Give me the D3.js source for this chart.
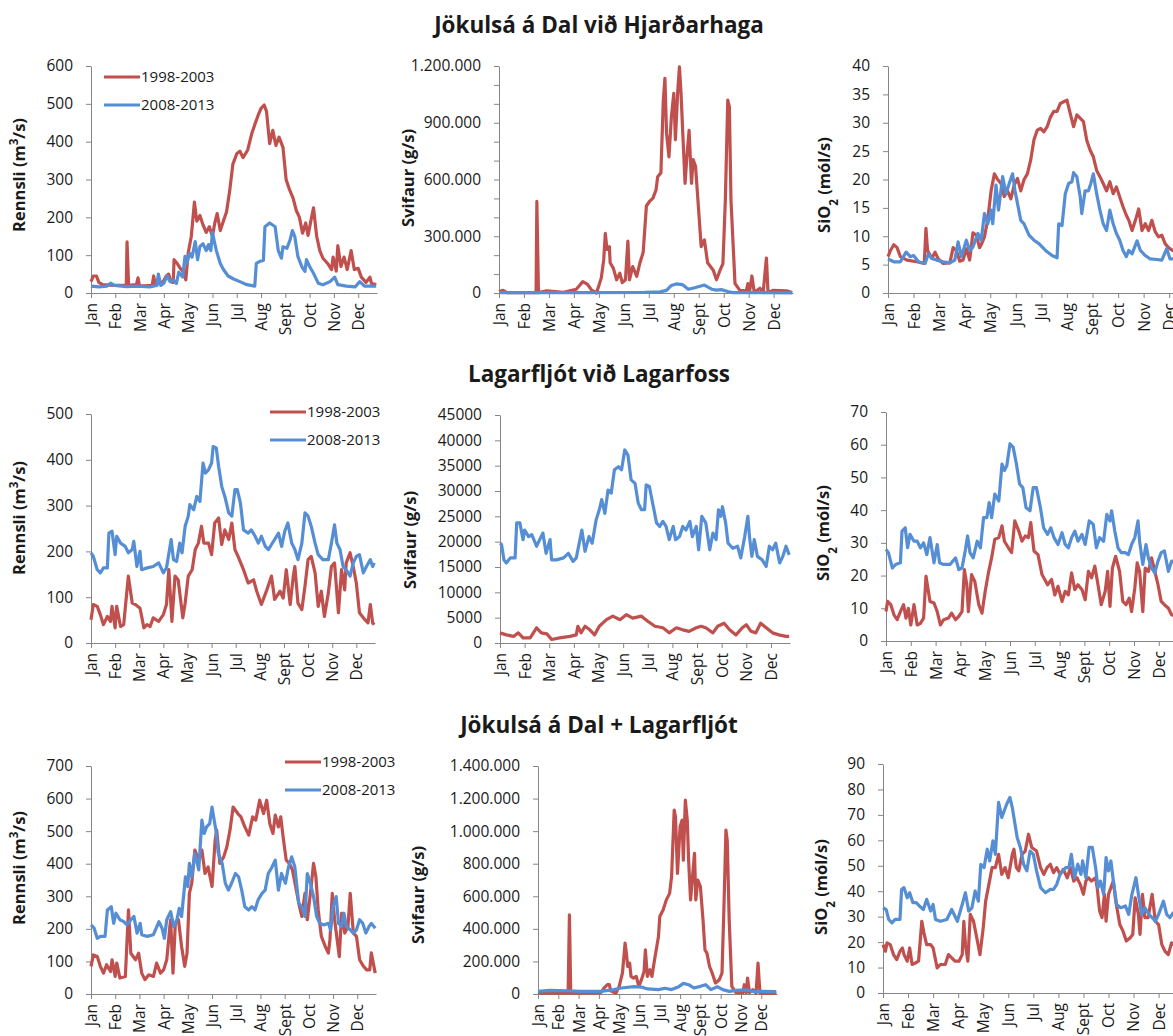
<!DOCTYPE html>
<html>
<head>
<meta charset="utf-8">
<script src="https://cdn.jsdelivr.net/npm/d3@7"></script>
<style>
  body { margin: 0; background: #fff; }
  text { font-family: "Open Sans", sans-serif; fill: #1a1a1a; }
</style>
</head>
<body>
<svg id="chart" width="1173" height="1036"></svg>
<script>
const months = ["Jan", "Feb", "Mar", "Apr", "May", "Jun", "Jul", "Aug", "Sept", "Oct", "Nov", "Dec"];
const monthDays = months.map((m, i) => i * 31);
const seriesNames = ["1998-2003", "2008-2013"];
const seriesColors = ["#C0504D", "#558ED5"];
const rowTitles = ["Jökulsá á Dal við Hjarðarhaga", "Lagarfljót við Lagarfoss", "Jökulsá á Dal + Lagarfljót"];

// [day of year, value]; svifaur series are in thousand g/s

// Jökulsá á Dal við Hjarðarhaga
const jdRennsli98 = [[0,30],[3,45],[7,45],[10,28],[15,22],[30,20],[45,20],[46,135],[48,20],[58,22],[60,40],[62,18],[78,20],[80,45],[82,22],[92,30],[96,45],[99,50],[102,30],[105,28],[106,88],[110,78],[114,65],[118,55],[121,35],[124,105],[128,150],[132,240],[135,190],[139,205],[143,180],[147,160],[151,175],[155,150],[158,185],[161,210],[165,165],[169,190],[173,215],[177,270],[181,340],[186,368],[190,375],[194,358],[200,378],[205,420],[209,445],[213,468],[217,488],[221,497],[224,480],[228,395],[232,430],[236,390],[240,412],[245,385],[249,300],[253,275],[258,250],[262,218],[266,200],[270,158],[274,185],[277,152],[281,195],[284,225],[288,150],[292,112],[296,92],[302,78],[307,62],[309,95],[313,58],[315,125],[319,70],[323,95],[327,62],[332,112],[336,62],[341,65],[345,42],[351,28],[356,42],[358,25],[364,22]];
const jdRennsli08 = [[0,18],[10,16],[20,18],[25,26],[30,20],[45,17],[60,18],[75,16],[84,20],[86,50],[89,20],[93,26],[97,45],[101,30],[105,35],[109,25],[112,55],[117,42],[120,97],[122,78],[126,105],[129,95],[133,136],[136,88],[139,123],[143,130],[147,112],[150,128],[153,112],[155,160],[157,140],[160,112],[165,78],[169,62],[175,45],[182,37],[190,30],[199,22],[209,18],[211,78],[216,84],[220,86],[222,175],[228,185],[235,175],[239,112],[243,92],[245,122],[250,118],[254,140],[257,165],[260,150],[264,97],[269,70],[273,57],[275,88],[279,70],[284,52],[290,26],[296,22],[305,30],[311,42],[315,22],[326,18],[337,16],[343,30],[349,18],[364,18]];
const jdSvifaur98 = [[0,8],[5,14],[10,2],[46,2],[47,484],[49,2],[59,12],[80,4],[96,20],[104,60],[110,45],[115,15],[121,0],[125,53],[127,80],[130,175],[132,315],[134,230],[137,245],[138,160],[142,130],[146,70],[150,105],[153,55],[157,70],[160,275],[162,70],[166,140],[171,88],[175,160],[179,215],[183,460],[187,485],[191,500],[195,545],[197,615],[201,635],[204,1020],[206,1135],[208,845],[211,720],[214,930],[217,1055],[219,810],[222,1075],[224,1195],[226,1055],[228,860],[231,580],[233,705],[236,860],[239,580],[241,705],[244,670],[247,490],[251,245],[255,280],[259,160],[266,120],[270,70],[274,115],[278,155],[281,490],[284,1020],[286,985],[288,490],[293,50],[299,14],[307,12],[309,50],[311,5],[314,90],[317,3],[324,25],[328,3],[332,185],[334,3],[340,14],[357,12],[364,3]];
const jdSvifaur08 = [[0,2],[100,2],[180,3],[200,6],[208,14],[214,40],[220,48],[228,44],[235,20],[243,28],[255,42],[264,20],[270,15],[276,18],[284,8],[290,2],[364,1]];
const jdSio98 = [[0,6.4],[3,7.5],[7,8.5],[11,8],[15,6.4],[23,5.8],[35,5.5],[44,5.2],[46,11.4],[48,7.5],[53,6.1],[57,7.2],[61,6],[67,5.2],[75,5.3],[79,8],[83,7.5],[87,5.6],[91,5.8],[95,7.8],[99,5.8],[103,10.6],[107,10.2],[111,8],[113,8.5],[117,9.9],[121,13],[125,18],[129,21],[133,20],[137,19.3],[141,17],[145,18],[149,16.6],[153,19],[157,20.2],[161,18],[165,20],[169,21],[173,23.4],[177,27],[181,28.7],[185,29],[189,28.4],[193,29.3],[197,31],[201,32],[205,32],[209,33.4],[213,33.7],[217,34],[221,31.6],[225,29.3],[229,31.4],[233,30.8],[237,30.2],[241,26.9],[245,25.2],[249,24],[253,21.6],[257,20.5],[261,19.3],[265,18],[269,19.6],[273,17.5],[277,18.7],[281,16.9],[285,15.2],[289,13.7],[292,12.8],[296,11],[300,12.8],[304,14.8],[308,11],[312,12.2],[316,11],[320,12.8],[324,10.8],[328,9.9],[332,10.2],[336,8.7],[340,8],[345,7.5],[355,7],[364,6.5]];
const jdSio08 = [[0,6],[7,5.5],[15,5.5],[22,7.2],[27,6.4],[31,6.6],[37,5.5],[45,5.2],[49,6.9],[53,6.1],[59,5.8],[67,5.5],[75,5.3],[81,5.8],[85,9],[89,6.4],[95,9.3],[99,7.5],[103,8.1],[109,10.5],[113,9.3],[117,14],[121,12.2],[125,14.6],[127,12.2],[131,19],[134,14.6],[137,18.1],[139,20.5],[143,17.5],[147,19.3],[151,21],[154,18],[157,15.8],[161,12.8],[165,12.2],[171,10.2],[177,9.3],[183,8.7],[191,7.5],[199,6.6],[205,6.2],[207,12.2],[211,11.9],[215,17.5],[219,19.3],[223,19.6],[225,21.2],[229,20.5],[233,17],[235,14],[239,18],[243,18],[246,19.3],[249,21],[253,17.5],[257,14.6],[261,12.2],[265,11],[269,14.6],[273,12.2],[277,10.5],[281,9.3],[285,7.5],[289,6.4],[292,7.5],[296,6.9],[302,9.2],[306,7.5],[312,6.6],[318,6],[326,5.9],[332,5.8],[338,7.8],[342,6],[350,6],[364,6]];

// Lagarfljót við Lagarfoss
const lfRennsli98 = [[0,51],[3,84],[8,80],[12,62],[16,40],[21,58],[25,47],[27,80],[31,33],[33,80],[38,36],[42,40],[48,146],[53,87],[57,84],[63,76],[68,33],[72,40],[76,36],[80,55],[87,47],[93,62],[97,84],[100,160],[104,47],[108,146],[112,138],[118,55],[121,87],[125,146],[130,160],[134,204],[138,218],[142,255],[145,218],[151,218],[155,193],[159,262],[164,273],[168,215],[172,247],[177,226],[181,262],[185,204],[189,189],[196,160],[202,131],[209,138],[213,113],[219,84],[226,116],[232,146],[236,95],[243,113],[247,98],[251,160],[256,84],[260,146],[262,167],[266,87],[271,73],[275,124],[279,182],[283,189],[288,153],[292,80],[296,113],[300,58],[305,109],[309,167],[313,175],[318,66],[322,160],[326,116],[328,175],[333,197],[337,167],[341,131],[345,66],[352,51],[356,44],[359,84],[362,44],[364,40]];
const lfRennsli08 = [[0,197],[3,189],[8,160],[12,153],[16,164],[21,164],[23,240],[27,244],[31,193],[33,233],[38,218],[44,211],[48,197],[53,204],[55,222],[59,167],[63,200],[65,160],[72,164],[80,167],[87,175],[93,153],[97,164],[103,226],[106,182],[110,178],[114,218],[117,197],[121,255],[125,277],[127,302],[132,291],[136,320],[140,309],[144,393],[147,371],[151,378],[155,393],[157,429],[161,426],[164,386],[168,342],[172,320],[177,284],[181,277],[185,335],[188,335],[192,306],[196,247],[202,240],[206,247],[211,233],[215,218],[219,233],[224,211],[228,204],[232,215],[236,226],[241,240],[245,211],[249,244],[253,262],[258,218],[262,204],[266,182],[271,218],[275,284],[279,277],[283,255],[288,218],[292,193],[298,182],[305,182],[309,218],[313,258],[316,218],[320,204],[324,167],[328,160],[333,146],[337,175],[341,189],[345,193],[350,153],[354,167],[359,182],[362,167],[364,175]];
const lfSvifaur98 = [[0,2],[8,1.6],[17,1.3],[23,2],[29,1],[38,1],[46,3],[52,2],[59,1.8],[65,0.7],[75,1],[88,1.3],[96,1.6],[98,3.3],[102,2],[107,3.3],[113,2.6],[119,1.6],[125,3.3],[134,4.6],[142,5.3],[151,4.6],[159,5.6],[167,4.9],[178,5.3],[186,4.3],[195,3.3],[205,3],[213,2],[222,3],[230,2.6],[238,2.3],[247,3],[253,3.3],[259,3],[268,2],[274,3.3],[282,3.9],[289,2.6],[297,1.6],[305,3],[310,3.6],[316,2.3],[322,2],[328,3.9],[335,3],[343,2],[351,1.6],[360,1.3],[364,1.3]];
const lfSvifaur08 = [[0,19.7],[2,19.4],[5,16.4],[8,15.8],[13,16.8],[19,16.8],[21,23.7],[25,23.7],[29,20.4],[31,22.3],[36,21],[40,21.4],[46,19.1],[50,20.4],[54,21.7],[58,17.7],[63,20.4],[65,16.4],[71,16.4],[80,16.8],[86,17.7],[92,16.1],[96,16.8],[103,22.3],[107,18.1],[112,21],[116,19.7],[121,24.3],[125,26.3],[128,28.3],[132,25.6],[136,30.2],[140,29.6],[144,34.2],[149,34.8],[153,34.2],[157,38.1],[161,37.1],[165,32.2],[170,31.5],[174,27.6],[178,26.3],[182,26.3],[184,31.2],[188,30.9],[193,26.9],[197,23.7],[201,23],[205,24],[209,23],[213,20.4],[218,23],[221,20.4],[226,21],[230,23],[234,22.3],[239,24],[242,21],[247,23],[250,18.4],[254,25],[259,23.7],[264,18.4],[268,21.7],[272,20.4],[275,26.3],[278,25],[280,26.9],[284,23.7],[287,19.7],[293,18.7],[299,19.1],[303,16.8],[308,21],[312,25],[314,21],[317,17.1],[320,20.4],[324,17.1],[330,16.4],[335,15.1],[339,19.1],[343,18.4],[347,19.7],[352,15.8],[356,17.1],[360,19.1],[364,17.4]];
const lfSio98 = [[0,9],[2,12.1],[6,11.1],[10,8],[14,6.5],[18,9],[22,11.1],[25,7],[28,10],[31,4.9],[35,11.1],[39,4.9],[43,5.4],[47,7],[50,19.8],[55,12.1],[60,11.6],[64,9],[68,4.9],[72,6.5],[78,7],[82,8.5],[87,6.5],[91,7.5],[95,9],[98,21.8],[101,17.2],[103,9],[107,20.3],[111,18.2],[116,11.1],[120,8.5],[124,15.2],[128,20.8],[132,25.4],[136,31.1],[141,31.6],[145,35.2],[148,30.5],[153,28.5],[157,27],[161,36.7],[166,33.6],[170,30.5],[174,32.1],[178,31.6],[181,36.2],[185,27.5],[190,26.4],[195,20.3],[202,17.2],[207,18.8],[211,14.1],[215,16.7],[220,12.1],[224,15.2],[228,14.1],[232,20.8],[236,15.7],[240,17.2],[245,15.7],[249,12.6],[253,21.3],[257,19.3],[261,22.9],[265,17.2],[269,11.1],[274,15.2],[277,21.3],[280,10.6],[283,22.3],[287,25.9],[292,21.3],[296,12.1],[300,11.1],[304,13.1],[307,9],[311,16.2],[314,23.9],[317,21.3],[321,9],[324,22.3],[328,21.3],[332,25.4],[336,21.3],[340,17.2],[344,12.1],[348,11.1],[353,10],[357,8],[364,7.5]];
const lfSio08 = [[0,28],[3,27],[8,22.3],[12,23.4],[18,23.9],[20,33.6],[24,34.6],[27,28.5],[30,32.6],[35,30.5],[39,30.5],[43,28.5],[47,30],[51,26.4],[55,31.6],[60,23.9],[64,29.5],[67,23.9],[72,23.4],[80,23.4],[87,25.4],[91,21.8],[95,22.3],[99,27.5],[102,32.1],[105,27],[109,25.4],[114,30.5],[118,28.5],[122,37.7],[126,37.7],[129,42.3],[132,37.7],[136,44.9],[141,42.8],[145,54.1],[148,52.1],[151,53.6],[155,60.3],[159,59.2],[163,54.1],[167,48],[171,46.9],[175,40.8],[180,39.8],[184,46.9],[188,46.9],[193,40.8],[197,34.6],[202,32.6],[206,34.6],[210,31.6],[215,29.5],[220,33.1],[224,29.5],[228,28.5],[232,31.6],[236,33.6],[240,30.5],[245,32.6],[249,29.5],[254,36.7],[259,35.7],[263,28.5],[267,31.6],[272,30.5],[276,38.7],[280,36.7],[282,39.8],[286,33.6],[290,28.5],[294,27],[299,27],[303,26.4],[307,29.5],[311,31.6],[315,36.7],[317,30.5],[321,23.4],[325,29.5],[328,25.4],[332,22.3],[336,20.8],[340,24.4],[344,27],[348,27.5],[353,21.3],[357,24.4],[364,24]];

// Jökulsá á Dal + Lagarfljót
const sumRennsli98 = [[0,85],[3,120],[8,115],[12,85],[16,64],[20,90],[25,69],[27,105],[31,54],[33,95],[37,49],[44,54],[48,258],[51,125],[57,105],[61,125],[65,64],[69,44],[74,59],[80,54],[84,95],[89,64],[93,74],[97,105],[101,207],[102,228],[105,64],[108,217],[112,228],[116,146],[120,85],[123,125],[126,309],[129,340],[133,442],[138,411],[142,442],[146,370],[150,390],[155,330],[159,472],[161,503],[165,401],[170,421],[174,452],[178,503],[182,574],[188,554],[192,544],[197,513],[202,488],[207,544],[211,534],[216,595],[221,554],[225,595],[229,523],[233,493],[236,549],[240,513],[243,544],[246,483],[250,411],[254,401],[258,381],[263,319],[267,268],[270,238],[274,309],[277,228],[281,309],[285,401],[288,360],[291,258],[295,177],[300,146],[304,126],[306,166],[309,309],[312,228],[318,115],[321,248],[325,187],[329,207],[332,309],[336,187],[340,177],[344,105],[349,85],[353,74],[357,74],[359,126],[364,64]];
const sumRennsli08 = [[0,212],[4,202],[8,171],[12,177],[18,177],[21,258],[26,268],[29,217],[32,248],[37,228],[42,222],[46,212],[51,228],[55,238],[59,187],[63,217],[65,182],[72,177],[80,182],[87,222],[91,202],[94,171],[97,228],[102,253],[106,207],[110,228],[113,263],[116,238],[121,360],[124,330],[126,401],[129,360],[133,432],[138,381],[142,534],[145,493],[148,513],[152,523],[155,574],[157,544],[160,503],[163,432],[168,401],[172,340],[176,319],[180,340],[185,370],[189,360],[193,319],[197,268],[202,258],[206,268],[210,258],[214,289],[219,309],[223,319],[227,370],[231,386],[236,411],[240,319],[244,370],[249,340],[253,391],[257,421],[261,391],[266,279],[270,268],[274,238],[277,370],[281,340],[285,299],[289,238],[293,217],[298,212],[304,217],[307,197],[310,268],[314,299],[317,217],[321,207],[324,248],[327,207],[332,197],[336,187],[340,197],[344,228],[348,217],[352,187],[356,207],[359,217],[364,202]];
const sumSvifaur98 = [[0,10],[8,5],[46,5],[48,486],[50,5],[65,5],[96,8],[101,37],[106,57],[109,57],[111,20],[119,5],[124,47],[129,129],[133,312],[135,251],[137,169],[140,190],[142,108],[146,98],[150,108],[154,47],[158,88],[162,139],[164,271],[167,108],[171,149],[174,108],[178,210],[184,353],[186,476],[191,516],[196,578],[201,618],[204,720],[208,1129],[210,1088],[213,741],[217,1027],[220,1067],[222,822],[225,1190],[228,1067],[230,822],[233,578],[236,720],[239,863],[241,578],[244,700],[248,659],[252,455],[255,271],[258,251],[262,169],[266,129],[271,67],[277,88],[281,129],[284,537],[287,1006],[289,945],[292,455],[296,47],[302,10],[313,8],[315,57],[318,8],[320,98],[323,8],[328,27],[333,5],[336,190],[339,5],[344,3],[364,3]];
const sumSvifaur08 = [[0,16],[18,22],[44,20],[65,16],[96,16],[116,27],[127,37],[147,45],[158,42],[168,31],[184,27],[194,35],[204,27],[215,45],[222,65],[230,57],[238,37],[248,47],[256,57],[264,27],[274,45],[282,27],[292,16],[302,22],[318,25],[328,16],[344,16],[364,15]];
const sumSio98 = [[0,19],[3,16.4],[5,19.7],[9,19],[13,15.1],[17,13.1],[21,16.4],[24,17.7],[26,15.1],[28,13.8],[30,12.5],[33,17.7],[36,11.2],[40,11.8],[44,12.5],[48,28.2],[51,23],[54,19],[59,19],[62,17.7],[67,9.9],[71,11.2],[77,11.2],[81,15.1],[85,13.8],[89,12.5],[94,12.5],[98,15.1],[100,28.2],[102,19],[105,12.5],[108,30.9],[112,28.2],[116,21.7],[120,15.1],[124,25.6],[127,36.1],[131,42.7],[135,49.3],[139,49.3],[143,54.5],[147,46.6],[151,49.3],[155,45.3],[160,54.5],[162,56.5],[165,49.3],[168,48],[172,54.5],[176,55.8],[180,62.4],[184,57.2],[190,55.8],[195,49.3],[199,46.6],[203,49.3],[207,50.6],[211,47.3],[215,49.3],[219,46.6],[223,48.6],[228,45.3],[232,49.3],[236,44],[240,45.3],[244,42.7],[248,38.8],[251,44],[254,45.3],[258,44],[263,45.3],[265,41.4],[268,32.2],[271,29.6],[274,38.8],[276,28.2],[279,38.8],[282,41.4],[285,44],[288,36.1],[293,26.9],[297,24.3],[301,20.4],[306,21.7],[309,23],[312,37.4],[316,30.9],[318,23],[321,38.8],[324,29.6],[328,29.6],[333,38.8],[337,28.2],[341,26.9],[345,19],[349,16.4],[353,15.1],[357,19.7],[364,18]];
const sumSio08 = [[0,33.5],[4,32.8],[7,28.9],[11,27.6],[15,28.9],[21,28.9],[23,40.7],[26,41.4],[30,37.4],[33,39.4],[37,35.5],[41,35.5],[45,34.2],[50,32.8],[54,36.8],[59,32.2],[62,34.8],[65,28.9],[71,28.2],[79,28.9],[85,32.8],[92,28.2],[98,34.8],[102,39.4],[106,32.2],[110,33.5],[114,40.1],[118,36.1],[121,50.6],[125,49.3],[129,56.5],[132,51.9],[136,59.8],[139,54.5],[143,74.9],[147,69],[150,71.6],[153,74.2],[157,76.9],[160,72.9],[162,69],[166,61.1],[170,57.2],[174,50.6],[178,48],[182,55.8],[186,54.5],[190,48],[195,41.4],[201,39.4],[207,40.7],[211,40.7],[215,42.7],[219,46.6],[226,49.3],[230,49.3],[233,54.5],[237,45.3],[241,50.6],[245,46.6],[247,51.9],[251,45.3],[255,57.2],[259,57.2],[263,49.3],[266,41.4],[269,44],[273,38.8],[276,53.2],[279,48],[282,51.9],[285,44],[289,34.8],[294,33.5],[300,34.2],[304,30.9],[308,38.8],[313,45.3],[316,38.8],[320,30.9],[324,33.5],[329,30.9],[333,29.6],[337,28.2],[341,30.9],[347,36.1],[351,30.9],[355,29.6],[359,31.5],[364,31]];

const svg = d3.select("#chart");
const dotFormat = d3.formatLocale({ decimal: ",", thousands: ".", grouping: [3], currency: ["", ""] }).format(",d");
const axisColor = "#868686";

// y titles
const rennsliTitle = t => { t.text("Rennsli (m"); t.append("tspan").attr("baseline-shift", "super").attr("font-size", "70%").text("3"); t.append("tspan").text("/s)"); };
const svifaurTitle = t => t.text("Svifaur (g/s)");
const sioTitle = t => { t.text("SiO"); t.append("tspan").attr("baseline-shift", "sub").attr("font-size", "70%").text("2"); t.append("tspan").text(" (mól/s)"); };

const panels = [
  { series: [jdRennsli98, jdRennsli08], x0: 91, x1: 377, top: 66, bottom: 293, max: 600, step: 100, title: rennsliTitle, tx: 19, ty: 175, legend: { x: 104, y: 77 } },
  { series: [jdSvifaur98, jdSvifaur08], x0: 499, x1: 793, top: 66, bottom: 293, max: 1200, step: 100, labelEvery: 300, fmt: d => dotFormat(d * 1000), title: svifaurTitle, tx: 408, ty: 178 },
  { series: [jdSio98, jdSio08], x0: 888, x1: 1189, top: 66, bottom: 293, max: 40, step: 5, title: sioTitle, tx: 824, ty: 185 },
  { series: [lfRennsli98, lfRennsli08], x0: 91, x1: 375, top: 414, bottom: 643, max: 500, step: 100, title: rennsliTitle, tx: 19, ty: 518, legend: { x: 270, y: 412 } },
  { series: [lfSvifaur98, lfSvifaur08], x0: 500, x1: 790, top: 415, bottom: 643, max: 45, step: 5, fmt: d => String(d * 1000), title: svifaurTitle, tx: 410, ty: 540 },
  { series: [lfSio98, lfSio08], x0: 886, x1: 1178, top: 412, bottom: 641, max: 70, step: 10, title: sioTitle, tx: 823, ty: 533 },
  { series: [sumRennsli98, sumRennsli08], x0: 91, x1: 376, top: 766, bottom: 994, max: 700, step: 100, title: rennsliTitle, tx: 19, ty: 868, legend: { x: 285, y: 762 } },
  { series: [sumSvifaur98, sumSvifaur08], x0: 538, x1: 777, top: 766, bottom: 994, max: 1400, step: 200, fmt: d => dotFormat(d * 1000), title: svifaurTitle, tx: 418, ty: 895 },
  { series: [sumSio98, sumSio08], x0: 883, x1: 1178, top: 764, bottom: 993, max: 90, step: 10, title: sioTitle, tx: 821, ty: 887 }
];

// row titles
[33, 382, 733].forEach((y, i) => {
  svg.append("text").attr("x", 599).attr("y", y).attr("text-anchor", "middle")
    .attr("font-size", 22.5).attr("font-weight", "bold").text(rowTitles[i]);
});

panels.forEach(p => {
  const x = d3.scaleLinear().domain([0, 365]).range([p.x0, p.x1]);
  const y = d3.scaleLinear().domain([0, p.max]).range([p.bottom, p.top]);
  const g = svg.append("g");

  const yAxis = d3.axisLeft(y)
    .tickValues(d3.range(0, p.max + p.step / 2, p.step))
    .tickSize(5).tickSizeOuter(0).tickPadding(13)
    .tickFormat(d => {
      if (p.labelEvery && Math.round(d) % p.labelEvery !== 0) return "";
      return p.fmt ? p.fmt(d) : d;
    });
  const ya = g.append("g").attr("transform", `translate(${p.x0},0)`).call(yAxis);

  const xAxis = d3.axisBottom(x).tickValues(monthDays).tickSize(5).tickSizeOuter(0)
    .tickFormat((d, i) => months[i]);
  const xa = g.append("g").attr("transform", `translate(0,${p.bottom})`).call(xAxis);
  xa.selectAll(".tick text")
    .attr("transform", "rotate(-90)")
    .attr("text-anchor", "end")
    .attr("x", -10).attr("y", 0).attr("dy", "0.35em");

  [ya, xa].forEach(a => {
    a.attr("font-family", null).attr("font-size", null);
    a.selectAll("path, line").attr("stroke", axisColor);
    a.selectAll("text").attr("font-size", 15.5).attr("fill", "#1a1a1a");
  });

  const line = d3.line().x(d => x(d[0])).y(d => y(d[1]));
  p.series.forEach((s, i) => {
    g.append("path").datum(s).attr("d", line)
      .attr("fill", "none").attr("stroke", seriesColors[i])
      .attr("stroke-width", 3.2).attr("stroke-linejoin", "round");
  });

  const t = g.append("text")
    .attr("transform", `translate(${p.tx},${p.ty}) rotate(-90)`)
    .attr("text-anchor", "middle").attr("dy", "0.35em")
    .attr("font-size", 16.5).attr("font-weight", "bold");
  p.title(t);

  if (p.legend) {
    seriesNames.forEach((name, i) => {
      const ly = p.legend.y + i * 28;
      g.append("line").attr("x1", p.legend.x).attr("x2", p.legend.x + 36)
        .attr("y1", ly).attr("y2", ly)
        .attr("stroke", seriesColors[i]).attr("stroke-width", 3.2);
      g.append("text").attr("x", p.legend.x + 37).attr("y", ly).attr("dy", "0.35em")
        .attr("font-size", 15).text(name);
    });
  }
});
</script>
</body>
</html>
